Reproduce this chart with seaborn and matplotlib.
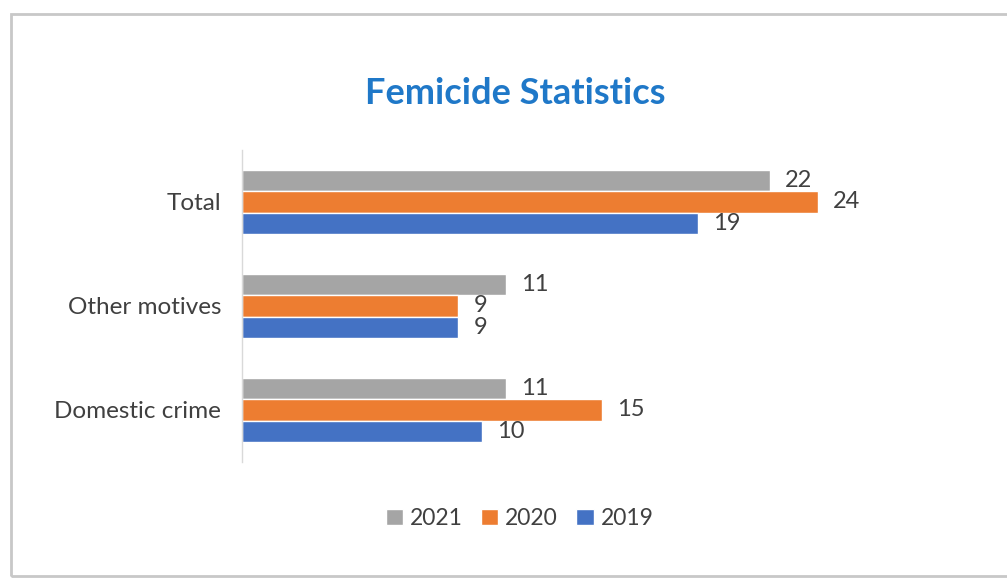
import matplotlib
matplotlib.use("Agg")
import matplotlib.pyplot as plt
from matplotlib.patches import Rectangle
import pandas as pd
import seaborn as sns

categories = ["Total", "Other motives", "Domestic crime"]
years = ["2021", "2020", "2019"]
values_2021 = [22, 11, 11]
values_2020 = [24, 9, 15]
values_2019 = [19, 9, 10]
colors = ["#A5A5A5", "#ED7D31", "#4472C4"]

df = pd.DataFrame({
    "category": categories * 3,
    "year": [y for y in years for _ in categories],
    "value": values_2021 + values_2020 + values_2019,
})

sns.set_theme(style="white")
plt.rcParams["font.family"] = ["Lato", "DejaVu Sans"]

fig = plt.figure(figsize=(10.07, 5.78), dpi=100)
ax = fig.add_axes([0.2403, 0.2007, 0.715, 0.5398])

sns.barplot(data=df, y="category", x="value", hue="year", order=categories,
            hue_order=years, palette=colors, width=0.62, orient="h", ax=ax,
            saturation=1, legend=True)

for c in ax.containers:
    ax.bar_label(c, padding=11, fontsize=17, color="#404040")

ax.set_xlim(0, 30)
ax.set_xlabel("")
ax.set_ylabel("")
ax.set_xticks([])
ax.tick_params(axis="y", length=0, labelsize=17.5, labelcolor="#404040", pad=15)
for s in ["top", "right", "bottom"]:
    ax.spines[s].set_visible(False)
ax.spines["left"].set_color("#D9D9D9")
ax.spines["left"].set_linewidth(1)

handles, labels = ax.get_legend_handles_labels()
ax.get_legend().remove()
fig.legend(handles, labels, loc="center", bbox_to_anchor=(0.516, 0.103), ncol=3,
           frameon=False, fontsize=16.5, handlelength=0.75, handleheight=0.75,
           handletextpad=0.3, columnspacing=0.8, labelcolor="#404040")

fig.text(0.512, 0.838, "Femicide Statistics", ha="center", va="center",
         fontsize=26, fontweight="bold", color="#1F78C8")

# chart frame
fig.patches.append(Rectangle((0.011, 0.004), 1.2, 0.972, transform=fig.transFigure,
                             fill=False, edgecolor="#C8C8C8", linewidth=2))

fig.savefig("out.png", dpi=100, facecolor="white")
